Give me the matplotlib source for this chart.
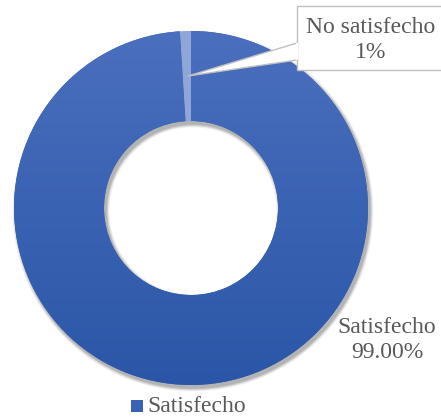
import matplotlib.pyplot as plt
import numpy as np
from matplotlib.colors import LinearSegmentedColormap
from matplotlib.patches import Wedge, Rectangle, Polygon

labels = ["Satisfecho", "No satisfecho"]
values = [99.0, 1.0]
value_text = ["99.00%", "1%"]
colors = ["#3a62b4", "#8ea6d8"]

plt.rcParams['font.family'] = ['Liberation Serif', 'DejaVu Serif']
text_color = "#595959"
fs = 17

W, H = 441, 417
fig = plt.figure(figsize=(W / 100, H / 100), dpi=100)
ax = fig.add_axes([0, 0, 1, 1])

cx, cy = 191, H - 208
r_out = 177
ring = 90

# soft shadow under the ring
for k, a in zip(range(6, 0, -1), [0.03, 0.04, 0.05, 0.06, 0.07, 0.08]):
    sh = Wedge((cx + 2, cy - 3), r_out + k * 0.6, 0, 360, width=ring + k * 1.2,
               facecolor='black', edgecolor='none', alpha=a, zorder=1)
    ax.add_patch(sh)

wedges, _ = ax.pie(values, colors=colors, startangle=90, counterclock=False,
                   radius=r_out, center=(cx, cy),
                   wedgeprops=dict(width=ring, edgecolor='none'), frame=True)
ax.set_xlim(0, W)
ax.set_ylim(0, H)
ax.set_aspect('equal')
ax.axis('off')
for w in wedges:
    w.set_zorder(2)

# vertical gradient on the large slice
cmap = LinearSegmentedColormap.from_list("g", ["#4a6fbe", "#2b56a7"])
grad = np.linspace(0, 1, 256).reshape(-1, 1)
im = ax.imshow(grad, cmap=cmap, extent=(cx - r_out, cx + r_out, cy - r_out, cy + r_out),
               origin='upper', aspect='auto', zorder=3)
im.set_clip_path(wedges[0])

# callout for the small slice
tip = (188, H - 76)
box_l, box_r, box_t, box_b = 297, 445, H - 6, H - 70
ax.add_patch(Polygon([tip, (box_l, H - 43), (box_l, H - 60)], closed=True,
                     facecolor='white', edgecolor='#bfbfbf', lw=1.0, zorder=5))
ax.add_patch(Rectangle((box_l, box_b), box_r - box_l, box_t - box_b,
                       facecolor='white', edgecolor='#bfbfbf', lw=1.0, zorder=6))
ax.plot([box_l, box_l], [H - 44, H - 59], color='white', lw=1.5, zorder=7)
ax.text(371, H - 40, f"{labels[1]}\n{value_text[1]}", ha='center', va='center',
        fontsize=fs, color=text_color, linespacing=1.2, zorder=8)

# label for the large slice
ax.text(387, H - 340, f"{labels[0]}\n{value_text[0]}", ha='center', va='center',
        fontsize=fs, color=text_color, linespacing=1.2, zorder=8)

# legend
ax.add_patch(Rectangle((131, H - 412), 12, 12, facecolor=colors[0], edgecolor='none', zorder=8))
ax.text(147, H - 406, labels[0], ha='left', va='center', fontsize=fs,
        color=text_color, zorder=8)

fig.savefig("out.png", dpi=100)
